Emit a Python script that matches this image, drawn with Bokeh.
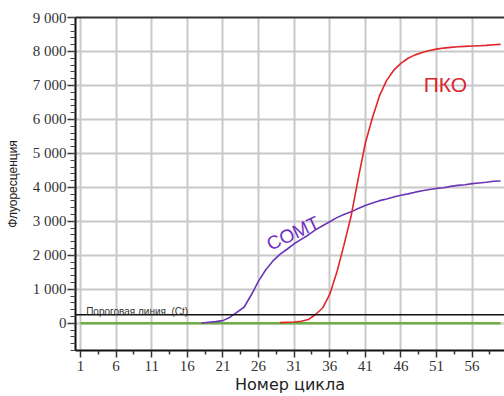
from bokeh.plotting import figure
from bokeh.models import (Range1d, FixedTicker, LinearAxis, Span, Label, Grid)
from bokeh.embed import file_html
from bokeh.resources import INLINE

# ---- data ----
comt_cycles = list(range(18, 61))
comt_values = [10, 30, 50, 80, 180, 330, 480, 840, 1240, 1570, 1830, 2030, 2180,
               2340, 2470, 2600, 2750, 2870, 2990, 3110, 3200, 3280, 3380, 3470,
               3540, 3610, 3660, 3720, 3770, 3810, 3860, 3900, 3940, 3970, 3990,
               4030, 4060, 4080, 4110, 4130, 4150, 4180, 4190]

pko_cycles = list(range(29, 61))
pko_values = [20, 30, 40, 60, 110, 260, 450, 850, 1500, 2300, 3150, 4250, 5300,
              6050, 6700, 7150, 7450, 7650, 7800, 7900, 7970, 8030, 8070, 8100,
              8120, 8140, 8150, 8160, 8170, 8180, 8200, 8210]

baseline_cycles = [1, 60]
baseline_values = [0, 0]

threshold = 250

x_ticks = [1, 6, 11, 16, 21, 26, 31, 36, 41, 46, 51, 56]
x_minor = [3.5, 8.5, 13.5, 18.5, 23.5, 28.5, 33.5, 38.5, 43.5, 48.5, 53.5, 58.5]
y_ticks = [0, 1000, 2000, 3000, 4000, 5000, 6000, 7000, 8000, 9000]
y_tick_labels = ["0", "1 000", "2 000", "3 000", "4 000", "5 000", "6 000",
                 "7 000", "8 000", "9 000"]
y_minor = list(range(-800, 9001, 200))

x_title = "Номер цикла"
y_title = "Флуоресценция"
threshold_label = "Пороговая линия\u00a0 (Ct)"
comt_label = "COMT"
pko_label = "ПКО"

X0, X1 = 0.3, 60.55
Y0, Y1 = -800, 9000

# ---- figure ----
p = figure(width=504, height=396, output_backend="svg", toolbar_location=None,
           x_range=Range1d(X0, X1), y_range=Range1d(Y0, Y1),
           min_border_left=75, min_border_right=0, min_border_top=17,
           min_border_bottom=46, x_axis_type=None, y_axis_type=None)
p.outline_line_color = None
p.background_fill_color = "white"
p.border_fill_color = "white"

tick_font = "Liberation Serif"

xaxis = LinearAxis(ticker=FixedTicker(ticks=x_ticks, minor_ticks=x_minor))
xaxis.axis_label = x_title
xaxis.axis_label_text_font = "DejaVu Sans"
xaxis.axis_label_text_font_size = "16px"
xaxis.axis_label_text_font_style = "normal"
xaxis.axis_label_text_color = "#222222"
xaxis.axis_label_text_line_height = 1.0
xaxis.axis_label_standoff = 1
xaxis.axis_line_color = "#111111"
xaxis.axis_line_width = 2
xaxis.major_tick_out = 7
xaxis.major_tick_in = 0
xaxis.minor_tick_out = 4
xaxis.minor_tick_in = 0
xaxis.major_tick_line_color = "#333333"
xaxis.minor_tick_line_color = "#333333"
xaxis.major_tick_line_width = 1.5
xaxis.minor_tick_line_width = 1.5
xaxis.major_label_text_font = tick_font
xaxis.major_label_text_font_size = "15px"
xaxis.major_label_text_color = "#333333"
xaxis.major_label_text_line_height = 1.0
xaxis.major_label_standoff = 3
p.add_layout(xaxis, "below")

yaxis = LinearAxis(ticker=FixedTicker(ticks=y_ticks, minor_ticks=y_minor))
yaxis.major_label_overrides = {t: s for t, s in zip(y_ticks, y_tick_labels)}
yaxis.axis_label = y_title
yaxis.axis_label_text_font = "Liberation Sans"
yaxis.axis_label_text_font_size = "12px"
yaxis.axis_label_text_font_style = "normal"
yaxis.axis_label_text_color = "#222222"
yaxis.axis_label_standoff = 10
yaxis.axis_line_color = "#111111"
yaxis.axis_line_width = 2
yaxis.major_tick_out = 8
yaxis.major_tick_in = 0
yaxis.minor_tick_out = 5
yaxis.minor_tick_in = 0
yaxis.major_tick_line_color = "#333333"
yaxis.minor_tick_line_color = "#444444"
yaxis.major_tick_line_width = 1.5
yaxis.minor_tick_line_width = 1.2
yaxis.major_label_text_font = tick_font
yaxis.major_label_text_font_size = "15px"
yaxis.major_label_text_color = "#333333"
yaxis.major_label_standoff = 1
p.add_layout(yaxis, "left")

top = LinearAxis(ticker=FixedTicker(ticks=[]))
top.major_label_text_font_size = "0px"
top.axis_line_color = "#333333"
top.axis_line_width = 2
top.major_tick_line_color = None
top.minor_tick_line_color = None
p.add_layout(top, "above")

# grids
gx = Grid(dimension=0, ticker=FixedTicker(ticks=x_ticks),
          grid_line_color="#c8c8c8", grid_line_width=2)
gy = Grid(dimension=1, ticker=FixedTicker(ticks=y_ticks),
          grid_line_color="#c8c8c8", grid_line_width=2)
p.add_layout(gx)
p.add_layout(gy)

# threshold
p.add_layout(Span(location=threshold, dimension="width",
                  line_color="#111111", line_width=1.5))

# curves
p.line(baseline_cycles, baseline_values, line_color="#70ad47", line_width=2.5)
p.line(comt_cycles, comt_values, line_color="#6a35b8", line_width=1.6)
p.line(pko_cycles, pko_values, line_color="#e0262a", line_width=1.6)

# labels
p.add_layout(Label(x=1.8, y=360, text=threshold_label, text_font="Liberation Sans",
                   text_font_size="10px", text_color="#333333",
                   text_baseline="alphabetic"))
p.add_layout(Label(x=27.3, y=2300, text=comt_label, text_font="Liberation Sans",
                   text_font_size="19px", text_color="#7030c0", angle=0.44,
                   text_baseline="alphabetic"))
p.add_layout(Label(x=49.2, y=7040, text=pko_label, text_font="Liberation Sans",
                   text_font_size="21px", text_color="#d8282e",
                   text_baseline="alphabetic"))

open("out.html", "w").write(file_html(p, INLINE))
